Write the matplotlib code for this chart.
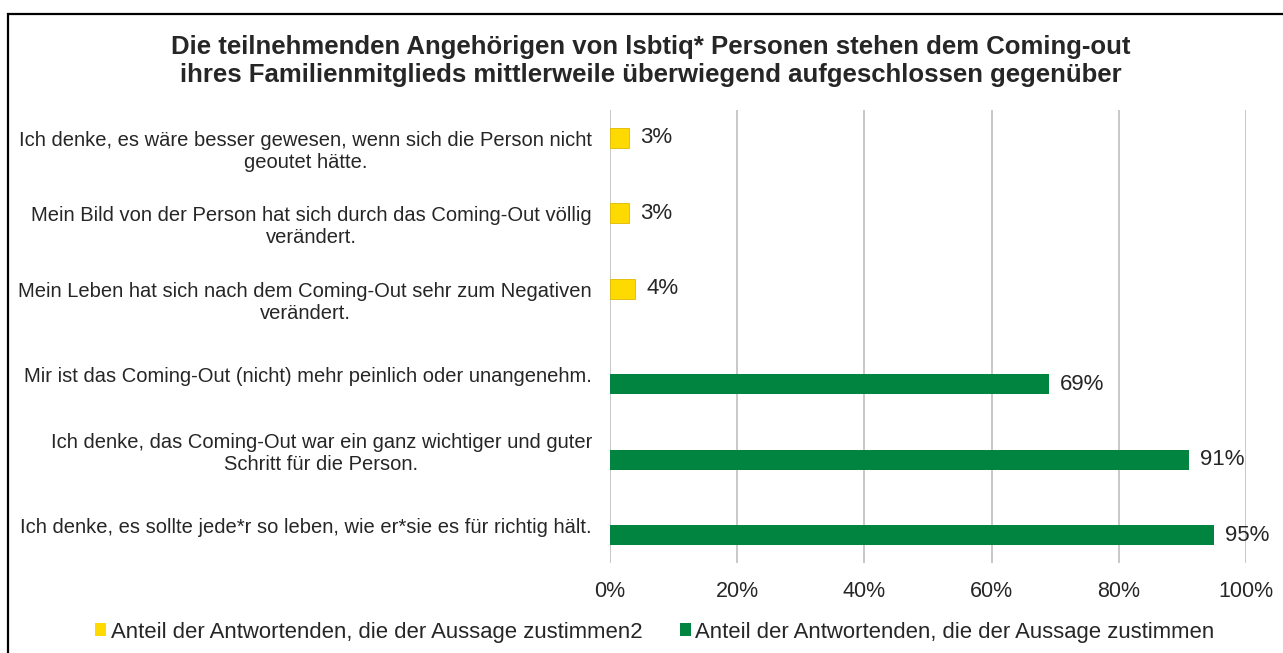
import numpy as np
import matplotlib
matplotlib.use("Agg")
import matplotlib.pyplot as plt
from matplotlib.patches import Rectangle, Patch

plt.rcParams['font.family'] = ['Liberation Sans', 'DejaVu Sans']

# data
categories = [
    "Ich denke, es wäre besser gewesen, wenn sich die Person nicht\ngeoutet hätte.",
    "Mein Bild von der Person hat sich durch das Coming-Out völlig\nverändert.",
    "Mein Leben hat sich nach dem Coming-Out sehr zum Negativen\nverändert.",
    "Mir ist das Coming-Out (nicht) mehr peinlich oder unangenehm.",
    "Ich denke, das Coming-Out war ein ganz wichtiger und guter\nSchritt für die Person.",
    "Ich denke, es sollte jede*r so leben, wie er*sie es für richtig hält.",
]
series_yellow = [3, 3, 4, None, None, None]
series_green = [None, None, None, 69, 91, 95]
series_names = [
    "Anteil der Antwortenden, die der Aussage zustimmen2",
    "Anteil der Antwortenden, die der Aussage zustimmen",
]
title = ("Die teilnehmenden Angehörigen von lsbtiq* Personen stehen dem Coming-out\n"
         "ihres Familienmitglieds mittlerweile überwiegend aufgeschlossen gegenüber")

yellow = "#FFDA00"
green = "#00843F"
text_col = "#262626"

fig = plt.figure(figsize=(12.83, 6.53), dpi=100)
ax = fig.add_axes([0.4754, 0.1378, 0.4958, 0.6937])

y = np.arange(len(categories))
h = 0.265
off = 0.13

for i, v in enumerate(series_yellow):
    if v is None:
        continue
    ax.barh(y[i] - off, v, height=h, color=yellow, edgecolor="#E0B800", linewidth=0.6, zorder=3)
    ax.text(v + 1.7, y[i] - off, f"{v}%", va="center", ha="left", fontsize=16, color=text_col)

for i, v in enumerate(series_green):
    if v is None:
        continue
    ax.barh(y[i] + off, v, height=h, color=green, zorder=3)
    ax.text(v + 1.7, y[i] + off, f"{v}%", va="center", ha="left", fontsize=16, color=text_col)

ax.set_xlim(0, 100)
ax.set_ylim(len(categories) - 0.5, -0.5)
ax.set_xticks(np.arange(0, 101, 20))
ax.set_xticklabels([f"{t}%" for t in range(0, 101, 20)], fontsize=15.5, color=text_col)
ax.set_yticks(y)
ax.set_yticklabels(categories, fontsize=14.5, color=text_col, multialignment="center")
ax.tick_params(axis="both", length=0)
ax.tick_params(axis="y", pad=13)
ax.tick_params(axis="x", pad=13)
ax.grid(axis="x", color="#C8C8C8", linewidth=1.4, zorder=0)
for s in ax.spines.values():
    s.set_visible(False)

fig.text(0.507, 0.906, title, ha="center", va="center", fontsize=18.5,
         fontweight="bold", color=text_col, linespacing=1.2)

handles = [Patch(facecolor=yellow), Patch(facecolor=green)]
fig.legend(handles, series_names, loc="center", bbox_to_anchor=(0.5105, 0.032),
           ncol=2, frameon=False, fontsize=15.9, handlelength=0.5, handleheight=0.5,
           handletextpad=0.2, columnspacing=1.7, labelcolor=text_col)

# outer chart border (right and bottom edges fall outside the image)
fig.patches.append(Rectangle((8 / 1283, -0.1), 1.2, 1.1 - 14 / 653,
                             transform=fig.transFigure, fill=False,
                             edgecolor="black", linewidth=1.6, zorder=10))

fig.savefig("out.png", dpi=100)
